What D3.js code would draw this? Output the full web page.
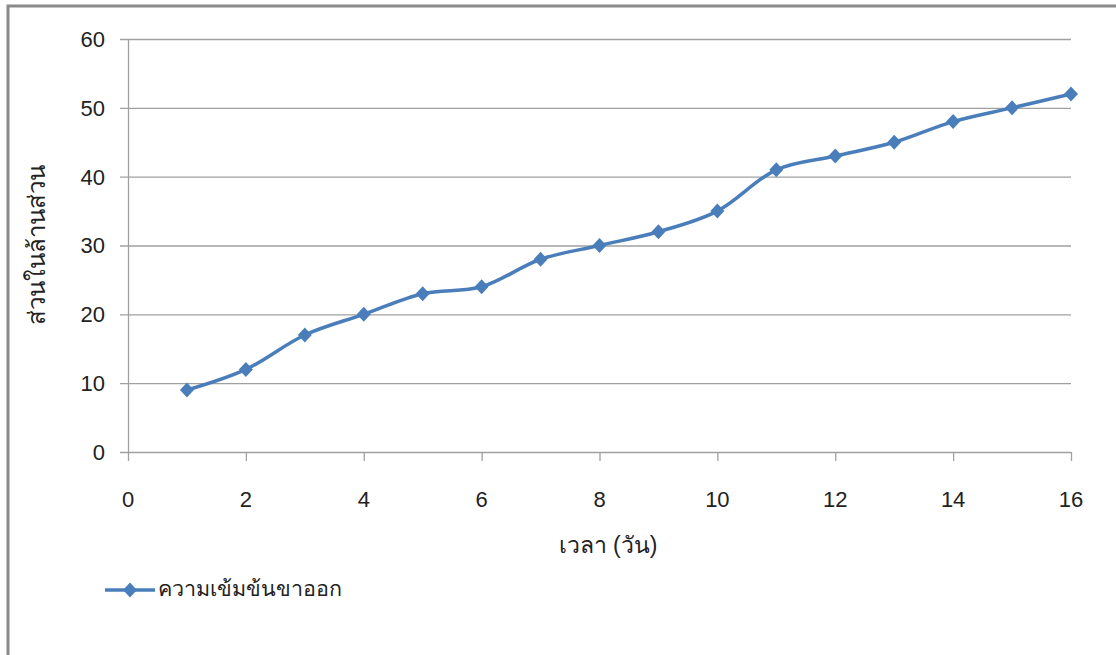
<!DOCTYPE html>
<html><head><meta charset="utf-8">
<script src="https://cdn.jsdelivr.net/npm/d3@7"></script>
<style>
html,body{margin:0;padding:0;background:#fff;}
text{font-family:"Liberation Sans","DejaVu Sans","Noto Sans",sans-serif;fill:#222;}
</style></head>
<body><svg id="c" width="1116" height="655"></svg>
<script>
const days = [1,2,3,4,5,6,7,8,9,10,11,12,13,14,15,16];
const concentration = [9,12,17,20,23,24,28,30,32,35,41,43,45,48,50,52];
const xTicks = [0,2,4,6,8,10,12,14,16];
const yTicks = [0,10,20,30,40,50,60];
const seriesName = "ความเข้มข้นขาออก";
const xTitle = "เวลา (วัน)";
const yTitle = "ส่วนในล้านส่วน";

const svg = d3.select("#c");
// frame
svg.append("path").attr("d","M8,655 L8,6 L1116,6").attr("fill","none").attr("stroke","#8a8a8a").attr("stroke-width",3);

const x = d3.scaleLinear().domain([0,16]).range([128,1071]);
const y = d3.scaleLinear().domain([0,60]).range([452,39]);
const grid = "#a0a0a0";

svg.append("g").selectAll("line").data(yTicks).join("line")
  .attr("x1",120).attr("x2",1071).attr("y1",d=>y(d)+0.5).attr("y2",d=>y(d)+0.5)
  .attr("stroke",grid).attr("stroke-width",1.3);
svg.append("line").attr("x1",128.5).attr("x2",128.5).attr("y1",y(60)).attr("y2",y(0)).attr("stroke",grid).attr("stroke-width",1.3);
svg.append("g").selectAll("line").data(xTicks).join("line")
  .attr("x1",d=>x(d)+0.5).attr("x2",d=>x(d)+0.5).attr("y1",y(0)).attr("y2",y(0)+9)
  .attr("stroke",grid).attr("stroke-width",1.3);
svg.append("g").selectAll("text").data(yTicks).join("text")
  .attr("x",105).attr("y",d=>y(d)).attr("dy","0.36em").attr("text-anchor","end")
  .attr("font-size",22).text(d=>d);
svg.append("g").selectAll("text").data(xTicks).join("text")
  .attr("x",d=>x(d)).attr("y",499).attr("dy","0.36em").attr("text-anchor","middle")
  .attr("font-size",22).text(d=>d);
svg.append("text").attr("x",608).attr("y",545).attr("dy","0.35em").attr("text-anchor","middle").attr("font-size",23).text(xTitle);
svg.append("text").attr("transform","translate(37,245) rotate(-90)").attr("dy","0.35em").attr("text-anchor","middle").attr("font-size",24).text(yTitle);

const color = "#4a7ebb";
const pts = days.map((d,i)=>[x(d),y(concentration[i])]);
svg.append("path").attr("d",d3.line().curve(d3.curveCatmullRom.alpha(0.5))(pts))
  .attr("fill","none").attr("stroke",color).attr("stroke-width",3.5);
const diamond = "M0,-7.5L7,0L0,7.5L-7,0Z";
svg.append("g").selectAll("path").data(pts).join("path")
  .attr("transform",p=>`translate(${p[0]},${p[1]})`).attr("d",diamond).attr("fill",color);

svg.append("line").attr("x1",105).attr("x2",155).attr("y1",590).attr("y2",590).attr("stroke",color).attr("stroke-width",3.5);
svg.append("path").attr("transform","translate(130,590)").attr("d",diamond).attr("fill",color);
svg.append("text").attr("x",158).attr("y",588).attr("dy","0.35em").attr("font-size",21.5).text(seriesName);
</script></body></html>
